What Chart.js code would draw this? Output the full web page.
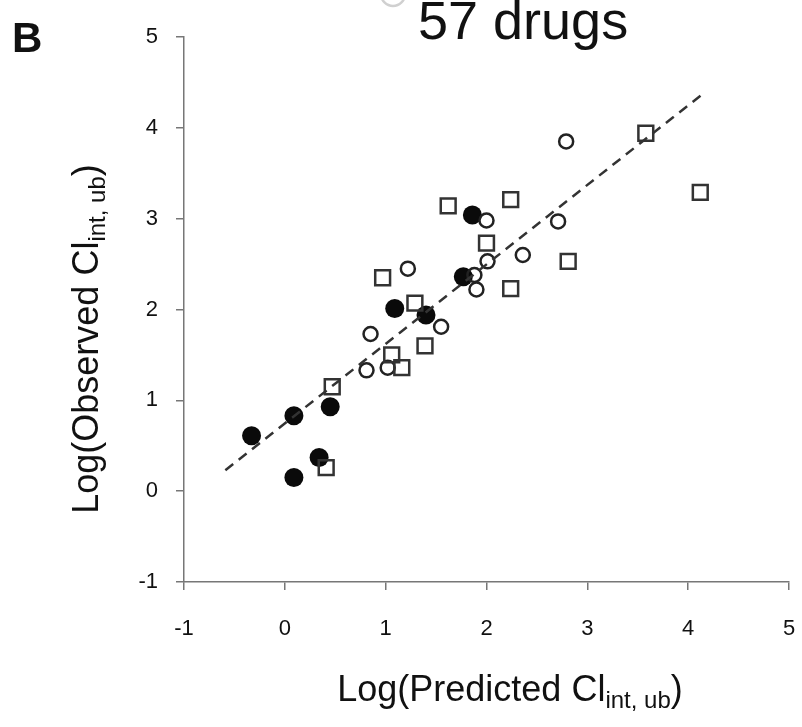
<!DOCTYPE html>
<html>
<head>
<meta charset="utf-8">
<script src="https://cdn.jsdelivr.net/npm/chart.js@4.4.0/dist/chart.umd.min.js"></script>
<style>
  html, body { margin: 0; padding: 0; background: #fff; }
  #wrap { position: relative; width: 802px; height: 727px; }
  canvas { display: block; }
</style>
</head>
<body>
<div id="wrap"><canvas id="clearanceChart" width="802" height="727"></canvas></div>
<script>
// Log observed vs log predicted unbound intrinsic clearance
const filledX = [-0.33, 0.09, 0.45, 0.34, 0.09, 1.09, 1.40, 1.77, 1.86]
const filledY = [0.61, 0.83, 0.93, 0.37, 0.15, 2.01, 1.94, 2.36, 3.04]

const openX = [1.22, 1.55, 0.85, 0.81, 1.02, 2.00, 2.01, 2.36, 2.71, 1.88, 1.90, 2.79]
const openY = [2.45, 1.81, 1.73, 1.33, 1.36, 2.98, 2.53, 2.60, 2.97, 2.38, 2.22, 3.85]

const squareX = [0.47, 0.41, 0.97, 1.29, 1.39, 1.06, 1.16, 1.62, 2.24, 2.00, 2.81, 2.24, 3.58, 4.12]
const squareY = [1.15, 0.26, 2.35, 2.07, 1.60, 1.50, 1.36, 3.14, 3.21, 2.73, 2.53, 2.23, 3.94, 3.29]

// regression line end points
const fitX = [-0.59, 4.13]
const fitY = [0.23, 4.36]

const axisMin = -1
const axisMax = 5

const FONT = "'Liberation Sans', Arial, sans-serif"

function toPoints(xs, ys) {
  return xs.map((x, i) => ({ x: x, y: ys[i] }))
}

// text with a subscript part, centred on the current origin
function drawSubText(ctx, main, sub, tail, size) {
  const subSize = Math.round(size * 0.68)
  ctx.font = `${size}px ${FONT}`
  const wMain = ctx.measureText(main).width
  const wTail = ctx.measureText(tail).width
  ctx.font = `${subSize}px ${FONT}`
  const wSub = ctx.measureText(sub).width
  let x = -(wMain + wSub + wTail) / 2
  ctx.textAlign = "left"
  ctx.textBaseline = "alphabetic"
  ctx.font = `${size}px ${FONT}`
  ctx.fillText(main, x, 0)
  x += wMain
  ctx.font = `${subSize}px ${FONT}`
  ctx.fillText(sub, x, size * 0.2)
  x += wSub
  ctx.font = `${size}px ${FONT}`
  ctx.fillText(tail, x, 0)
}

const extraText = {
  id: "extraText",
  afterDraw(chart) {
    const ctx = chart.ctx
    ctx.save()
    ctx.fillStyle = "#111"

    // panel letter
    ctx.font = `bold 42px ${FONT}`
    ctx.textAlign = "left"
    ctx.textBaseline = "alphabetic"
    ctx.fillText("B", 12, 52)

    // legend entry cut at the top edge
    ctx.strokeStyle = "#d0d0d0"
    ctx.lineWidth = 2.5
    ctx.beginPath()
    ctx.arc(393, -6, 12, 0, Math.PI * 2)
    ctx.stroke()
    ctx.font = `54px ${FONT}`
    ctx.fillText("57 drugs", 418, 39)

    // x axis title
    ctx.save()
    ctx.translate(510, 701)
    drawSubText(ctx, "Log(Predicted Cl", "int, ub", ")", 36)
    ctx.restore()

    // y axis title
    ctx.save()
    ctx.translate(98, 339)
    ctx.rotate(-Math.PI / 2)
    drawSubText(ctx, "Log(Observed Cl", "int, ub", ")", 36)
    ctx.restore()

    ctx.restore()
  },
}

function axisOptions(isX) {
  return {
    type: "linear",
    min: axisMin,
    max: axisMax,
    ticks: {
      stepSize: 1,
      color: "#111",
      padding: isX ? 26 : 18,
      font: { family: FONT, size: 22 },
    },
    grid: {
      display: true,
      drawOnChartArea: false,
      drawTicks: true,
      tickLength: 8,
      color: "#777",
      lineWidth: 1.5,
    },
    border: { display: true, color: "#777", width: 1.5 },
    afterFit: (scale) => {
      // fixed axis box sizes, no extra room for edge labels
      if (isX) {
        scale.height = 145
        scale.paddingLeft = 0
        scale.paddingRight = 0
      } else {
        scale.width = 184
        scale.paddingTop = 0
        scale.paddingBottom = 0
      }
    },
  }
}

const ctx = document.getElementById("clearanceChart")
new Chart(ctx, {
  type: "scatter",
  data: {
    datasets: [
      {
        type: "line",
        data: toPoints(fitX, fitY),
        borderColor: "#333",
        borderWidth: 2.5,
        borderDash: [10, 7],
        pointRadius: 0,
        fill: false,
      },
      {
        data: toPoints(squareX, squareY),
        pointStyle: "rect",
        pointRadius: 10.5,
        pointBorderWidth: 2.5,
        pointBorderColor: "#333",
        pointBackgroundColor: "rgba(255,255,255,0)",
      },
      {
        data: toPoints(openX, openY),
        pointStyle: "circle",
        pointRadius: 7,
        pointBorderWidth: 2.5,
        pointBorderColor: "#222",
        pointBackgroundColor: "rgba(255,255,255,0)",
      },
      {
        data: toPoints(filledX, filledY),
        pointStyle: "circle",
        pointRadius: 9.5,
        pointBorderWidth: 0,
        pointBackgroundColor: "#0a0a0a",
      },
    ],
  },
  options: {
    responsive: false,
    animation: false,
    devicePixelRatio: 1,
    layout: { padding: { top: 37, right: 12, left: 0, bottom: 0 } },
    plugins: {
      legend: { display: false },
      tooltip: { enabled: false },
    },
    scales: {
      x: axisOptions(true),
      y: axisOptions(false),
    },
  },
  plugins: [extraText],
})
</script>
</body>
</html>
